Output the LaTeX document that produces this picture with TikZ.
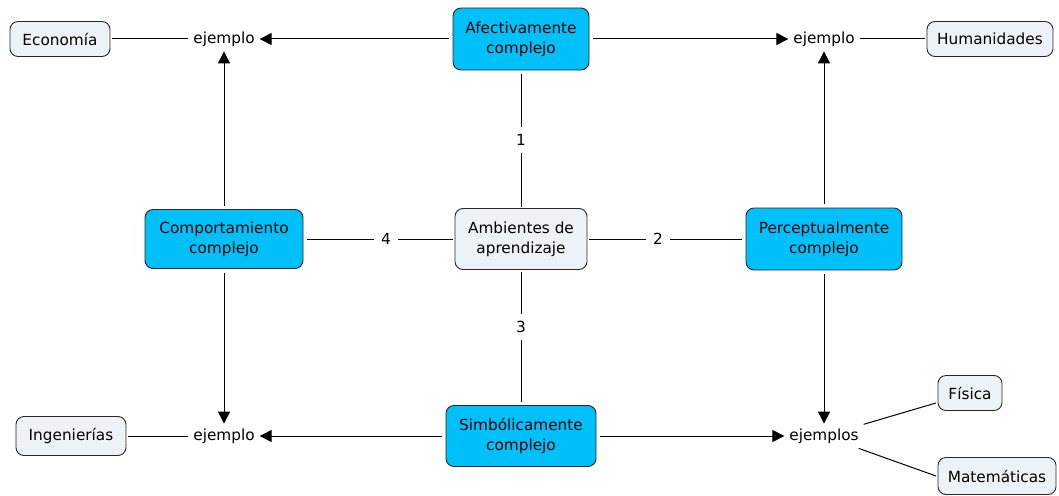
\documentclass[tikz,border=0pt]{standalone}
\usepackage{fontspec}
\setmainfont{DejaVu Sans}
\usetikzlibrary{arrows.meta}
\definecolor{conceptblue}{RGB}{0,192,250}
\definecolor{leafgray}{RGB}{236,242,245}
\definecolor{boxline}{RGB}{40,40,40}
\tikzset{
  concept/.style={draw=boxline, fill=conceptblue, rounded corners=8pt, align=center, line width=0.9pt, inner sep=2pt, outer sep=4pt},
  leaf/.style={draw=boxline, fill=leafgray, rounded corners=8pt, align=center, line width=0.9pt, inner sep=2pt, outer sep=2pt},
  word/.style={inner sep=3pt, outer sep=2pt},
  lbl/.style={inner sep=5pt, outer sep=2pt},
  conn/.style={line width=1pt, black},
  arr/.style={conn, -{Triangle[length=12pt,width=12pt]}}
}
\begin{document}
\begin{tikzpicture}[x=1pt,y=1pt,font=\fontsize{15.3}{20}\selectfont]
\useasboundingbox (0,0) rectangle (1059,-495);
% nodes
\node[leaf, minimum width=100, minimum height=35] (econ) at (60,-39) {Economía};
\node[word] (ej1) at (224,-39) {ejemplo};
\node[concept, minimum width=136, minimum height=62] (afect) at (521,-39) {Afectivamente\\complejo};
\node[word] (ej2) at (824,-39) {ejemplo};
\node[leaf, minimum width=126, minimum height=35] (human) at (990,-39) {Humanidades};
\node[concept, minimum width=158, minimum height=59] (comp) at (224,-239) {Comportamiento\\complejo};
\node[leaf, minimum width=132, minimum height=61] (amb) at (521,-239) {Ambientes de\\aprendizaje};
\node[concept, minimum width=156, minimum height=62] (perc) at (824,-239) {Perceptualmente\\complejo};
\node[leaf, minimum width=110, minimum height=39] (ing) at (71,-436) {Ingenierías};
\node[word] (ej3) at (224,-436) {ejemplo};
\node[concept, minimum width=150, minimum height=61] (simb) at (521,-436) {Simbólicamente\\complejo};
\node[word] (ejs) at (824,-436) {ejemplos};
\node[leaf, minimum width=64, minimum height=35] (fis) at (970,-393) {Física};
\node[leaf, minimum width=118, minimum height=37] (mat) at (997,-476) {Matemáticas};
% labels
\node[lbl] (l1) at (521,-140) {1};
\node[lbl] (l2) at (658,-239) {2};
\node[lbl] (l3) at (521,-327) {3};
\node[lbl] (l4) at (386,-239) {4};
% connectors
\draw[conn] (econ) -- (ej1);
\draw[arr] (afect) -- (ej1);
\draw[arr] (afect) -- (ej2);
\draw[conn] (ej2) -- (human);
\draw[arr] (comp) -- (ej1);
\draw[arr] (comp) -- (ej3);
\draw[arr] (perc) -- (ej2);
\draw[arr] (perc) -- (ejs);
\draw[conn] (ing) -- (ej3);
\draw[arr] (simb) -- (ej3);
\draw[arr] (simb) -- (ejs);
\draw[conn] (ejs) -- (fis);
\draw[conn] (ejs) -- (mat.west);
\draw[conn] (afect) -- (l1);
\draw[conn] (l1) -- (amb);
\draw[conn] (amb) -- (l2);
\draw[conn] (l2) -- (perc);
\draw[conn] (amb) -- (l3);
\draw[conn] (l3) -- (simb);
\draw[conn] (amb) -- (l4);
\draw[conn] (l4) -- (comp);
\end{tikzpicture}
\end{document}
